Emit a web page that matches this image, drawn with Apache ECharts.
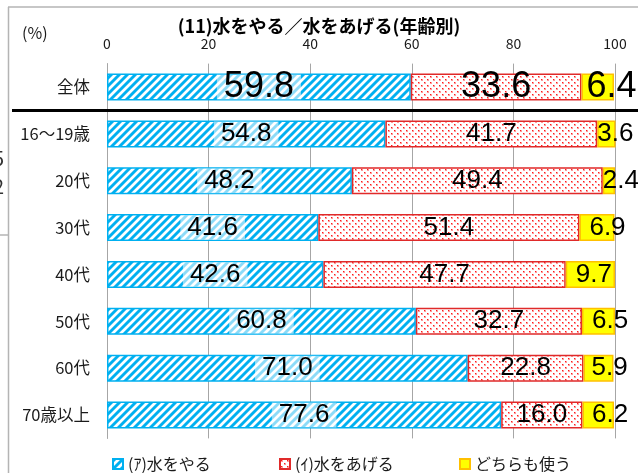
<!DOCTYPE html>
<html>
<head>
<meta charset="utf-8">
<script src="https://cdn.jsdelivr.net/npm/echarts@6/dist/echarts.min.js"></script>
<style>
  html, body { margin: 0; padding: 0; background: #fff; }
  #chart { width: 638px; height: 473px; }
</style>
</head>
<body>
<div id="chart"></div>
<script>
// Age groups (top to bottom)
const categories = ['全体', '16～19歳', '20代', '30代', '40代', '50代', '60代', '70歳以上'];
// Share of answers, %
const waterYaru  = [59.8, 54.8, 48.2, 41.6, 42.6, 60.8, 71.0, 77.6];
const waterAgeru = [33.6, 41.7, 49.4, 51.4, 47.7, 32.7, 22.8, 16.0];
const bothUsed   = [6.4, 3.6, 2.4, 6.9, 9.7, 6.5, 5.9, 6.2];
const seriesNames = ['(ｱ)水をやる', '(ｲ)水をあげる', 'どちらも使う'];
const xTickValues = [0, 20, 40, 60, 80, 100];

const CJK = '"Noto Sans CJK JP", "Noto Sans", sans-serif';
const NUM = '"Liberation Sans", Arial, sans-serif';

const GRID = { left: 107, right: 23, top: 63.6, bottom: 34.6 };
const plotWidth = 638 - GRID.left - GRID.right;

// Diagonal "/" stripes, light blue on white
function stripeTile() {
  const n = 8;
  const c = document.createElement('canvas');
  c.width = n; c.height = n;
  const ctx = c.getContext('2d');
  const img = ctx.createImageData(n, n);
  for (let y = 0; y < n; y++) {
    for (let x = 0; x < n; x++) {
      const k = (x + y) % n;
      let col;
      if (k < 3) col = [0, 176, 240];
      else if (k === 3 || k === 7) col = [120, 210, 246];
      else col = [255, 255, 255];
      const i = (y * n + x) * 4;
      img.data[i] = col[0]; img.data[i + 1] = col[1]; img.data[i + 2] = col[2]; img.data[i + 3] = 255;
    }
  }
  ctx.putImageData(img, 0, 0);
  return c;
}

// Staggered small red dots on white
function dotTile() {
  const n = 6;
  const c = document.createElement('canvas');
  c.width = n; c.height = n;
  const ctx = c.getContext('2d');
  ctx.fillStyle = '#ffffff';
  ctx.fillRect(0, 0, n, n);
  const dots = [[1, 1], [4, 4]];
  dots.forEach(([x, y]) => {
    ctx.fillStyle = '#ff9a9a';
    ctx.fillRect(x, y, 2, 2);
    ctx.fillStyle = '#ff1a1a';
    ctx.fillRect(x, y, 1, 1);
  });
  return c;
}

const stripeFill = { image: stripeTile(), repeat: 'repeat' };
const dotFill = { image: dotTile(), repeat: 'repeat' };

const fmt = p => Number(p.value).toFixed(1);
const BIG = 36, NORMAL = 26;

function centeredData(values, withBg) {
  return values.map((v, i) => ({
    value: v,
    label: { fontSize: i === 0 ? BIG : NORMAL }
  }));
}

// Narrow segments: label starts near the segment's left edge and runs past it
function sideData(values) {
  return values.map((v, i) => {
    const px = v * plotWidth / 100;
    let dx = Math.max(0, Math.min(10, px - 22));
    if (i === 0) dx = Math.max(0, dx - 5);
    return {
      value: v,
      label: { fontSize: i === 0 ? BIG : NORMAL, offset: [dx, 0] }
    };
  });
}

const chart = echarts.init(document.getElementById('chart'), null, { renderer: 'canvas' });

const legendBase = {
  orient: 'horizontal',
  top: 451,
  itemWidth: 10,
  itemHeight: 10,
  itemGap: 4,
  icon: 'rect',
  textStyle: { fontFamily: CJK, fontSize: 16, color: '#1a1a1a', padding: [0, 0, 0, 0] }
};

chart.setOption({
  animation: false,
  backgroundColor: '#ffffff',
  title: {
    text: '(11)水をやる／水をあげる(年齢別)',
    left: 'center',
    top: 12,
    textStyle: { fontFamily: CJK, fontSize: 18, fontWeight: 'bold', color: '#000' }
  },
  legend: [
    Object.assign({}, legendBase, { left: 107, data: [seriesNames[0]] }),
    Object.assign({}, legendBase, { left: 274, data: [seriesNames[1]] }),
    Object.assign({}, legendBase, { left: 454, data: [seriesNames[2]] })
  ],
  grid: Object.assign({ containLabel: false }, GRID),
  xAxis: {
    type: 'value',
    position: 'top',
    min: xTickValues[0],
    max: xTickValues[xTickValues.length - 1],
    interval: xTickValues[1] - xTickValues[0],
    axisLine: { show: false },
    axisTick: { show: false },
    axisLabel: { fontFamily: CJK, fontSize: 14, color: '#1a1a1a', margin: 13 },
    splitLine: { show: true, lineStyle: { color: '#a6a6a6', width: 1 } }
  },
  yAxis: {
    type: 'category',
    inverse: true,
    data: categories,
    axisLine: { show: true, lineStyle: { color: '#a6a6a6', width: 1 } },
    axisTick: { show: false },
    axisLabel: { fontFamily: CJK, fontSize: 16.5, color: '#1a1a1a', margin: 17 },
    splitLine: { show: false }
  },
  series: [
    {
      name: seriesNames[0],
      type: 'bar',
      stack: 'total',
      barWidth: 27,
      itemStyle: { color: stripeFill, borderColor: '#00b0f0', borderWidth: 1.5 },
      label: {
        show: true,
        position: 'inside',
        formatter: fmt,
        fontFamily: NUM,
        color: '#000',
        backgroundColor: 'rgba(255,255,255,0.55)',
        padding: [0, 7],
        lineHeight: 25
      },
      data: centeredData(waterYaru)
    },
    {
      name: seriesNames[1],
      type: 'bar',
      stack: 'total',
      barWidth: 27,
      itemStyle: { color: dotFill, borderColor: '#e02a2a', borderWidth: 1.5 },
      label: {
        show: true,
        position: 'inside',
        formatter: fmt,
        fontFamily: NUM,
        color: '#000',
        lineHeight: 25
      },
      data: centeredData(waterAgeru)
    },
    {
      name: seriesNames[2],
      type: 'bar',
      stack: 'total',
      barWidth: 27,
      itemStyle: { color: '#ffff00', borderColor: '#ffc000', borderWidth: 1.5 },
      label: {
        show: true,
        position: 'insideLeft',
        distance: 0,
        formatter: fmt,
        fontFamily: NUM,
        color: '#000',
        lineHeight: 25
      },
      data: sideData(bothUsed)
    }
  ]
});

// Frame lines, unit note and the rule under the overall row
const yTotal = chart.convertToPixel({ yAxisIndex: 0 }, categories[0]);
const yFirstAge = chart.convertToPixel({ yAxisIndex: 0 }, categories[1]);
const yRule = (yTotal + yFirstAge) / 2;

chart.setOption({
  graphic: [
    { type: 'line', z: 5, shape: { x1: 8, y1: 7, x2: 638, y2: 7 }, style: { stroke: '#b4b4b4', lineWidth: 1.5 } },
    { type: 'line', z: 5, shape: { x1: 8.5, y1: 7, x2: 8.5, y2: 473 }, style: { stroke: '#b4b4b4', lineWidth: 1.5 } },
    { type: 'line', z: 5, shape: { x1: 0, y1: 235, x2: 8, y2: 235 }, style: { stroke: '#b4b4b4', lineWidth: 1.5 } },
    { type: 'text', z: 5, left: -7, top: 148, style: { text: '5', fontFamily: CJK, fontSize: 20, fill: '#333' } },
    { type: 'text', z: 5, left: -7, top: 176, style: { text: '2', fontFamily: CJK, fontSize: 20, fill: '#333' } },
    { type: 'text', z: 5, left: 22, top: 25, style: { text: '(%)', fontFamily: CJK, fontSize: 16, fill: '#1a1a1a' } },
    { type: 'line', z: 20, shape: { x1: 12, y1: yRule, x2: 638, y2: yRule }, style: { stroke: '#000', lineWidth: 3 } }
  ]
});
</script>
</body>
</html>
